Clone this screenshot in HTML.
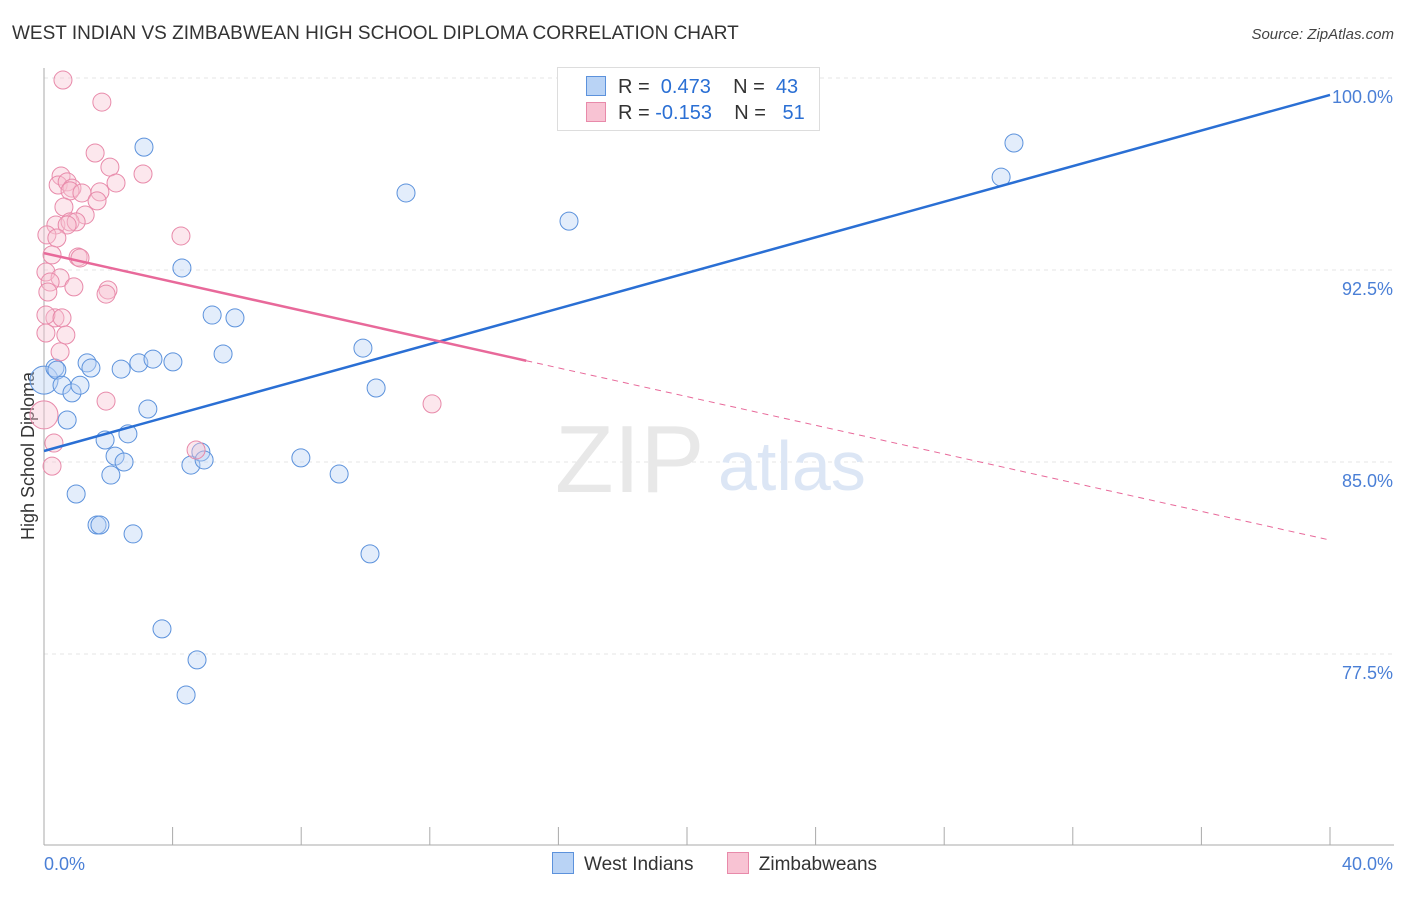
<!DOCTYPE html>
<html><head><meta charset="utf-8"><style>
body{margin:0;background:#fff;font-family:"Liberation Sans",sans-serif}
svg text{font-family:"Liberation Sans",sans-serif}
</style></head><body>
<svg id="c" width="1406" height="892"></svg>
<script>
const blueX=[0,.34,.40,.56,.72,.87,1.0,1.12,1.34,1.46,1.65,1.74,1.9,2.08,2.21,2.4,2.49,2.61,2.77,2.95,3.11,3.23,3.39,3.67,4.01,4.29,4.42,4.57,4.76,4.88,4.98,5.23,5.57,5.94,7.99,9.18,9.92,10.14,10.33,11.26,16.33,29.77,30.17];
const blueY=[88.2,88.67,88.59,88.0,86.64,87.7,83.75,88.0,88.87,88.67,82.54,82.54,85.86,84.49,85.23,88.63,85.0,86.1,82.19,88.87,97.3,87.07,89.02,78.48,88.91,92.58,75.9,84.88,77.27,85.39,85.08,90.74,89.22,90.63,85.16,84.53,89.45,81.41,87.89,95.51,94.41,96.13,97.46];
const pinkX=[.59,1.8,1.59,2.05,3.08,.53,.44,.72,.87,.81,1.18,1.74,2.24,1.65,.62,1.28,.37,.81,1.0,.72,.09,.4,4.26,.25,1.06,1.12,.06,.5,.19,.93,1.99,1.93,.12,.34,.06,.56,.06,.68,.5,1.93,12.07,.31,4.73,.25,0];
const pinkY=[99.92,99.06,97.07,96.52,96.25,96.17,95.82,95.94,95.7,95.59,95.51,95.55,95.9,95.2,94.96,94.65,94.26,94.38,94.38,94.26,93.87,93.75,93.83,93.09,93.01,92.97,92.42,92.19,92.03,91.84,91.72,91.56,91.64,90.63,90.74,90.63,90.04,89.96,89.3,87.38,87.27,85.74,85.47,84.84,86.84];
const blueLine=[85.43,99.34];
const pinkLine=[93.16,81.95];
const pinkSolidEnd=15.0;
const yTicks=[100,92.5,85,77.5];
const yTickLabels=["100.0%","92.5%","85.0%","77.5%"];
const NS="http://www.w3.org/2000/svg",s=document.getElementById('c');
const X=v=>44+v*32.15, Y=v=>78+(100-v)*25.6;
function el(t,a,p){const e=document.createElementNS(NS,t);for(const k in a)e.setAttribute(k,a[k]);(p||s).appendChild(e);return e;}
yTicks.forEach((t,i)=>{
 const g=el('line',{x1:44,x2:1394,y1:Y(t),y2:Y(t),stroke:'#e4e4e4','stroke-dasharray':'4,4'});
 
 const l=el('text',{x:1393,y:Y(t)+25,'text-anchor':'end','font-size':18,fill:'#4a7fd6'});l.textContent=yTickLabels[i];
 
});
el('line',{x1:44,x2:44,y1:68,y2:845,stroke:'#aaa'});
el('line',{x1:44,x2:1394,y1:845,y2:845,stroke:'#aaa'});
for(let i=0;i<=10;i++){const xx=44+i*128.6;el('line',{x1:xx,x2:xx,y1:827,y2:845,stroke:'#aaa'});}
let t=el('text',{x:44,y:870,'font-size':18,fill:'#4a7fd6'});t.textContent='0.0%';
t=el('text',{x:1393,y:870,'text-anchor':'end','font-size':18,fill:'#4a7fd6'});t.textContent='40.0%';
t=el('text',{x:34,y:456,'text-anchor':'middle','font-size':18,fill:'#333',transform:'rotate(-90 34 456)'});t.textContent='High School Diploma';
t=el('text',{x:12,y:39,'font-size':19,fill:'#333'});t.textContent='WEST INDIAN VS ZIMBABWEAN HIGH SCHOOL DIPLOMA CORRELATION CHART';
t=el('text',{x:1394,y:39,'text-anchor':'end','font-size':15,fill:'#444','font-style':'italic'});t.textContent='Source: ZipAtlas.com';
t=el('text',{x:555,y:492,'font-size':96,fill:'#e8e8e8','font-family':'Liberation Serif'});t.textContent='ZIP';
t=el('text',{x:718,y:490,'font-size':70,fill:'#dce6f5'});t.textContent='atlas';
function pts(xs,ys,fill,stroke,name){xs.forEach((x,i)=>{const big=(x===0);const c=el('circle',{cx:X(x),cy:Y(ys[i]),r:big?14:9,fill:fill,'fill-opacity':0.4,stroke:stroke,'stroke-width':1});
});}
pts(blueX,blueY,'#b9d3f5','#5c92dc','west-indian-point');
pts(pinkX,pinkY,'#f8c3d3','#e88aaa','zimbabwean-point');
let ln=el('line',{x1:X(0),y1:Y(blueLine[0]),x2:X(40),y2:Y(blueLine[1]),stroke:'#2a6fd4','stroke-width':2.5});

const pm=pinkLine[0]+(pinkLine[1]-pinkLine[0])*pinkSolidEnd/40;
ln=el('line',{x1:X(0),y1:Y(pinkLine[0]),x2:X(pinkSolidEnd),y2:Y(pm),stroke:'#e8699a','stroke-width':2.5});

ln=el('line',{x1:X(pinkSolidEnd),y1:Y(pm),x2:X(40),y2:Y(pinkLine[1]),stroke:'#e8699a','stroke-width':1,'stroke-dasharray':'6,5'});

</script>
<div style="position:absolute;left:557px;top:67px;width:261px;height:62px;border:1px solid #ddd;background:#fff;font-size:20px;color:#333">
 <div style="position:absolute;left:28px;top:8px;white-space:nowrap"><span style="display:inline-block;width:18px;height:18px;background:#b9d3f5;border:1px solid #5c92dc;vertical-align:-3px;margin-right:12px"></span>R = &nbsp;<span style="color:#2a6fd4">0.473</span>&nbsp;&nbsp;&nbsp; N = &nbsp;<span style="color:#2a6fd4">43</span></div>
 <div style="position:absolute;left:28px;top:34px;white-space:nowrap"><span style="display:inline-block;width:18px;height:18px;background:#f8c3d3;border:1px solid #e88aaa;vertical-align:-3px;margin-right:12px"></span>R = <span style="color:#2a6fd4">-0.153</span>&nbsp;&nbsp;&nbsp; N = &nbsp;&nbsp;<span style="color:#2a6fd4">51</span></div>
</div>
<div style="position:absolute;left:552px;top:852px;font-size:19px;color:#333;white-space:nowrap">
 <span><span style="display:inline-block;width:20px;height:20px;background:#b9d3f5;border:1px solid #5c92dc;vertical-align:-4px;margin-right:10px"></span>West Indians</span>
 <span style="margin-left:28px"><span style="display:inline-block;width:20px;height:20px;background:#f8c3d3;border:1px solid #e88aaa;vertical-align:-4px;margin-right:10px"></span>Zimbabweans</span>
</div>
</body></html>
